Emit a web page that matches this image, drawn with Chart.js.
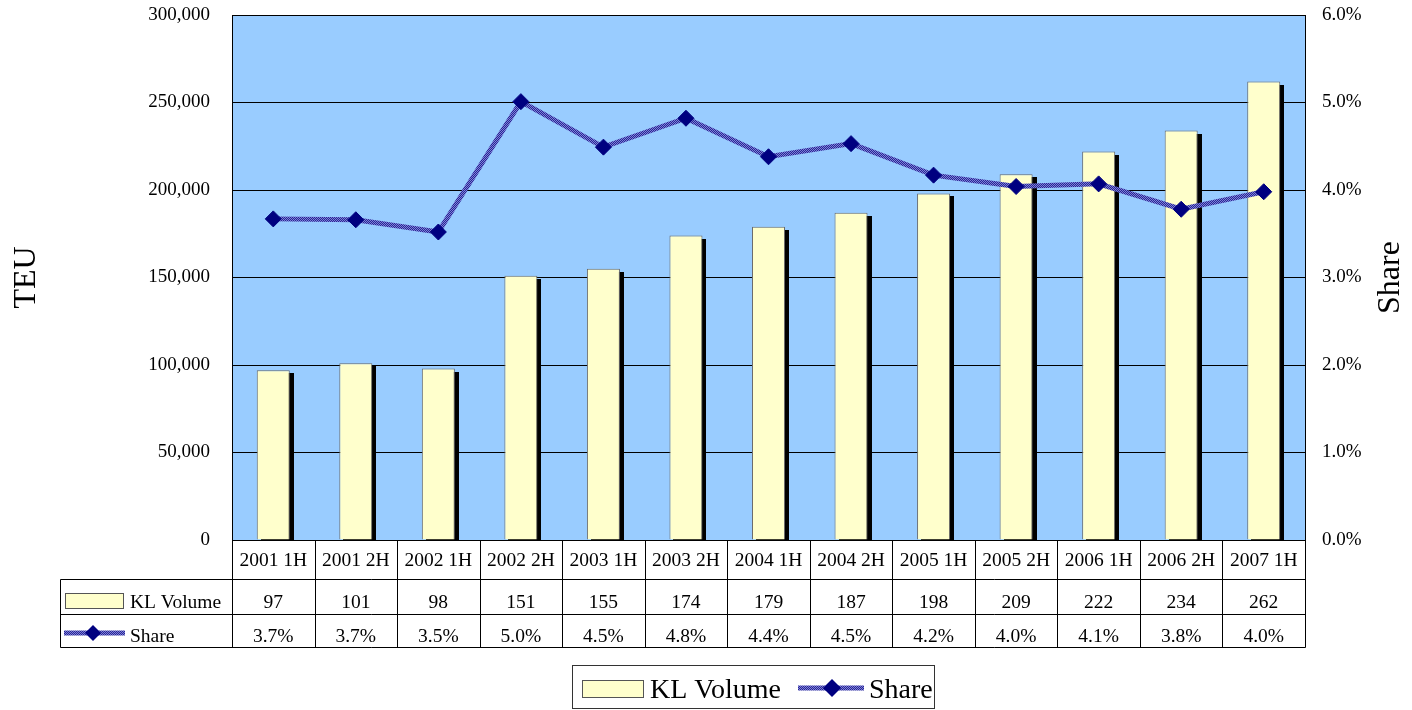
<!DOCTYPE html>
<html>
<head>
<meta charset="utf-8">
<script src="https://cdn.jsdelivr.net/npm/chart.js@4.4.1/dist/chart.umd.min.js"></script>
<style>
html,body{margin:0;padding:0;background:#fff;}
#wrap{width:1412px;height:710px;}
</style>
</head>
<body>
<div id="wrap"><canvas id="c" width="1412" height="710"></canvas></div>
<script>
const categories = ['2001 1H','2001 2H','2002 1H','2002 2H','2003 1H','2003 2H','2004 1H','2004 2H','2005 1H','2005 2H','2006 1H','2006 2H','2007 1H'];
const klVolume = [97000,101000,98000,151000,155000,174000,179000,187000,198000,209000,222000,234000,262000];
const sharePct = [3.67,3.66,3.52,5.01,4.49,4.82,4.38,4.53,4.17,4.04,4.07,3.78,3.98];
const volumeTableLabels = klVolume.map(v => String(Math.round(v / 1000)));
const shareTableLabels = sharePct.map(v => v.toFixed(1) + '%');
const seriesNames = ['KL Volume', 'Share'];

const FONT = "'Liberation Serif','Times New Roman',serif";
const BAR_FILL = '#FFFFCC';
const BAR_EDGE = '#6b6b6b';
const PLOT_BG = '#99CCFF';
const NAVY = '#000080';

function makeLinePattern() {
  const pc = document.createElement('canvas');
  pc.width = 2; pc.height = 2;
  const p = pc.getContext('2d');
  p.fillStyle = '#262696'; p.fillRect(0,0,2,2);
  p.fillStyle = '#8080d6'; p.fillRect(0,0,1,1); p.fillRect(1,1,1,1);
  return document.getElementById('c').getContext('2d').createPattern(pc, 'repeat');
}
const linePattern = makeLinePattern();

function drawDiamond(ctx, x, y, r) {
  ctx.beginPath();
  ctx.moveTo(x, y - r); ctx.lineTo(x + r, y); ctx.lineTo(x, y + r); ctx.lineTo(x - r, y);
  ctx.closePath();
  ctx.fillStyle = NAVY; ctx.fill();
}

const bgPlugin = {
  id: 'bg',
  beforeDraw(chart) {
    const {ctx, chartArea: ca} = chart;
    ctx.save();
    ctx.fillStyle = '#fff';
    ctx.fillRect(0, 0, chart.width, chart.height);
    ctx.fillStyle = PLOT_BG;
    ctx.fillRect(ca.left, ca.top, ca.right - ca.left, ca.bottom - ca.top);
    ctx.restore();
  }
};

// black drop shadow behind each bar, from the bar elements' own geometry
const shadowPlugin = {
  id: 'barShadow',
  beforeDatasetDraw(chart, args) {
    const ds = chart.data.datasets[args.index];
    if (ds.type !== 'bar') return;
    const {ctx, chartArea: ca} = chart;
    ctx.save();
    ctx.beginPath();
    ctx.rect(ca.left, ca.top, ca.right - ca.left, ca.bottom - ca.top);
    ctx.clip();
    ctx.fillStyle = '#000';
    args.meta.data.forEach(el => {
      const p = el.getProps(['x', 'y', 'base', 'width'], true);
      const left = Math.round(p.x - p.width / 2) + 4;
      const top = Math.round(p.y) + 3;
      ctx.fillRect(left, top, Math.round(p.width), Math.round(p.base) - top);
    });
    ctx.restore();
  }
};

const tablePlugin = {
  id: 'table',
  afterDraw(chart) {
    const {ctx, chartArea: ca, scales} = chart;
    const x = scales.x;
    const n = categories.length;
    const top = ca.bottom;            // 540
    const r1 = top + 39, r2 = top + 74, r3 = top + 107;
    const tableLeft = 60;
    const L = Math.round(ca.left) + 0.5, R = Math.round(ca.right) + 0.5;
    ctx.save();
    ctx.strokeStyle = '#000';
    ctx.lineWidth = 1;
    ctx.strokeRect(L, Math.round(ca.top) + 0.5, R - L, Math.round(ca.bottom) - Math.round(ca.top));
    ctx.beginPath();
    [r1, r2, r3].forEach(yy => { ctx.moveTo(tableLeft + 0.5, yy + 0.5); ctx.lineTo(R, yy + 0.5); });
    ctx.moveTo(tableLeft + 0.5, r1 + 0.5); ctx.lineTo(tableLeft + 0.5, r3 + 0.5);
    const step = (ca.right - ca.left) / n;
    for (let i = 0; i <= n; i++) {
      const bx = Math.round(ca.left + i * step) + 0.5;
      ctx.moveTo(bx, top); ctx.lineTo(bx, r3 + 0.5);
    }
    ctx.stroke();
    ctx.fillStyle = '#000';
    ctx.font = '19.5px ' + FONT;
    ctx.textAlign = 'center';
    ctx.textBaseline = 'alphabetic';
    for (let i = 0; i < n; i++) {
      const cx = x.getPixelForValue(i);
      ctx.fillText(volumeTableLabels[i], cx, top + 68);
      ctx.fillText(shareTableLabels[i], cx, top + 102);
    }
    ctx.textAlign = 'left';
    ctx.fillText(seriesNames[0], 130, top + 68);
    ctx.fillText(seriesNames[1], 130, top + 102);
    ctx.fillStyle = BAR_FILL;
    ctx.fillRect(65.5, top + 53.5, 58, 15);
    ctx.strokeStyle = '#555';
    ctx.strokeRect(65.5, top + 53.5, 58, 15);
    ctx.strokeStyle = linePattern;
    ctx.lineWidth = 5;
    ctx.beginPath(); ctx.moveTo(64, top + 93); ctx.lineTo(125, top + 93); ctx.stroke();
    drawDiamond(ctx, 93, top + 93, 8);

    ctx.lineWidth = 1;
    ctx.strokeStyle = '#333';
    ctx.strokeRect(572.5, 665.5, 362, 43);
    ctx.fillStyle = BAR_FILL;
    ctx.fillRect(582.5, 680.5, 61, 17);
    ctx.strokeStyle = '#555';
    ctx.strokeRect(582.5, 680.5, 61, 17);
    ctx.fillStyle = '#000';
    ctx.font = '28px ' + FONT;
    ctx.textAlign = 'left';
    ctx.fillText(seriesNames[0], 650, 698);
    ctx.fillText(seriesNames[1], 869, 698);
    ctx.strokeStyle = linePattern;
    ctx.lineWidth = 5;
    ctx.beginPath(); ctx.moveTo(798, 688); ctx.lineTo(864, 688); ctx.stroke();
    drawDiamond(ctx, 832, 688, 9);

    ctx.translate(1391, (ca.top + ca.bottom) / 2);
    ctx.rotate(-Math.PI / 2);
    ctx.font = '32px ' + FONT;
    ctx.textAlign = 'center';
    ctx.textBaseline = 'middle';
    ctx.fillStyle = '#000';
    ctx.fillText('Share', 0, 0);
    ctx.restore();
  }
};

new Chart(document.getElementById('c'), {
  data: {
    labels: categories,
    datasets: [
      {
        type: 'line',
        label: seriesNames[1],
        data: sharePct,
        yAxisID: 'y1',
        order: 0,
        borderColor: linePattern,
        borderWidth: 5,
        pointStyle: 'rectRot',
        pointRadius: 8,
        pointHoverRadius: 8,
        pointBackgroundColor: NAVY,
        pointBorderColor: NAVY,
        pointBorderWidth: 1,
        tension: 0,
        fill: false
      },
      {
        type: 'bar',
        label: seriesNames[0],
        data: klVolume,
        yAxisID: 'y',
        order: 1,
        backgroundColor: BAR_FILL,
        borderColor: BAR_EDGE,
        borderWidth: 1,
        barPercentage: 0.4,
        categoryPercentage: 1.0,
        clip: 0
      }
    ]
  },
  options: {
    responsive: false,
    animation: false,
    events: [],
    layout: { padding: { top: 15, left: 0, right: 0, bottom: 0 } },
    plugins: { legend: { display: false }, tooltip: { enabled: false } },
    scales: {
      x: {
        type: 'category',
        grid: { display: false, drawTicks: false },
        border: { display: true, color: '#000' },
        ticks: { color: '#000', font: { family: FONT, size: 19.5 }, padding: 9, maxRotation: 0, autoSkip: false },
        afterFit(s) { s.height = 170; s.paddingLeft = 0; s.paddingRight = 0; }
      },
      y: {
        position: 'left',
        min: 0, max: 300000,
        grid: { color: '#000', lineWidth: 1, drawTicks: false },
        border: { display: true, color: '#000' },
        ticks: {
          stepSize: 50000, color: '#000', padding: 22,
          font: { family: FONT, size: 19 },
          callback: v => v.toLocaleString('en-US')
        },
        title: { display: true, text: 'TEU', color: '#000', font: { family: FONT, size: 32 }, padding: { top: 7, bottom: 0 } },
        afterFit(s) { s.width = 232; s.paddingTop = 0; s.paddingBottom = 0; }
      },
      y1: {
        position: 'right',
        min: 0, max: 6,
        grid: { display: true, drawOnChartArea: false, drawTicks: false },
        border: { display: true, color: '#000' },
        ticks: {
          stepSize: 1, color: '#000', padding: 17,
          font: { family: FONT, size: 19 },
          callback: v => v.toFixed(1) + '%'
        },
        afterFit(s) { s.width = 107; s.paddingTop = 0; s.paddingBottom = 0; }
      }
    }
  },
  plugins: [bgPlugin, shadowPlugin, tablePlugin]
});
</script>
</body>
</html>
